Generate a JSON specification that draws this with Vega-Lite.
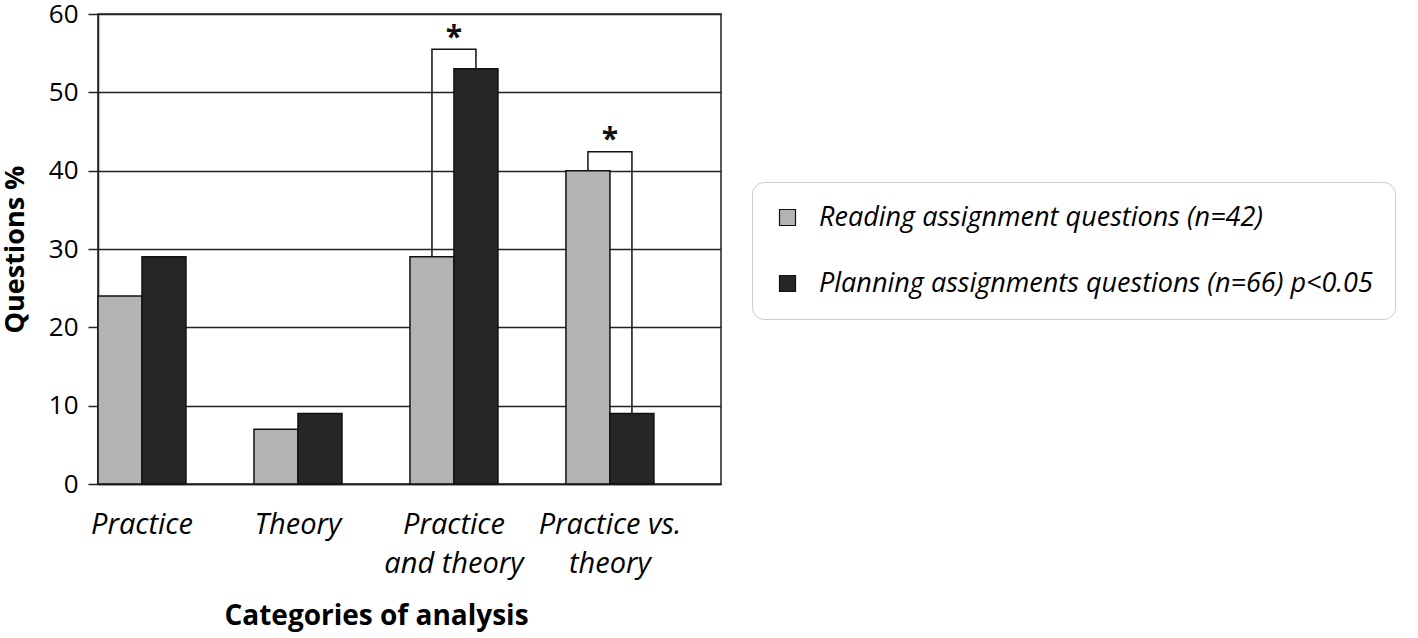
{
  "$schema": "https://vega.github.io/schema/vega-lite/v6.json",
  "width": 623,
  "height": 470,
  "autosize": {"type": "none"},
  "padding": {"left": 98, "top": 14, "right": 697, "bottom": 154},
  "background": "white",
  "config": {
    "view": {"stroke": "#222222", "strokeWidth": 1.5},
    "font": "Open Sans"
  },
  "datasets": {
    "bars": [
      {"category": "Practice", "series": "Reading", "value": 24},
      {"category": "Practice", "series": "Planning", "value": 29},
      {"category": "Theory", "series": "Reading", "value": 7},
      {"category": "Theory", "series": "Planning", "value": 9},
      {"category": "Practice and theory", "series": "Reading", "value": 29},
      {"category": "Practice and theory", "series": "Planning", "value": 53},
      {"category": "Practice vs. theory", "series": "Reading", "value": 40},
      {"category": "Practice vs. theory", "series": "Planning", "value": 9}
    ],
    "brackets": [
      {"bracket": "b1", "seq": 1, "category": "Practice and theory", "series": "Reading", "value": 29},
      {"bracket": "b1", "seq": 2, "category": "Practice and theory", "series": "Reading", "value": 55.5},
      {"bracket": "b1", "seq": 3, "category": "Practice and theory", "series": "Planning", "value": 55.5},
      {"bracket": "b1", "seq": 4, "category": "Practice and theory", "series": "Planning", "value": 53},
      {"bracket": "b2", "seq": 1, "category": "Practice vs. theory", "series": "Reading", "value": 40},
      {"bracket": "b2", "seq": 2, "category": "Practice vs. theory", "series": "Reading", "value": 42.4},
      {"bracket": "b2", "seq": 3, "category": "Practice vs. theory", "series": "Planning", "value": 42.4},
      {"bracket": "b2", "seq": 4, "category": "Practice vs. theory", "series": "Planning", "value": 9}
    ],
    "stars": [
      {"category": "Practice and theory", "value": 56.9, "label": "*"},
      {"category": "Practice vs. theory", "value": 43.9, "label": "*"}
    ]
  },
  "encoding": {
    "x": {
      "field": "category",
      "type": "nominal",
      "sort": ["Practice", "Theory", "Practice and theory", "Practice vs. theory"],
      "scale": {"paddingInner": 0.436, "paddingOuter": 0.215, "align": 0},
      "axis": {
        "title": "Categories of analysis",
        "titleFont": "Open Sans",
        "titleFontSize": 28,
        "titleFontWeight": "bold",
        "titleColor": "black",
        "titleX": 278,
        "titleAnchor": "middle",
        "titlePadding": 24,
        "labelFont": "Open Sans",
        "labelFontStyle": "italic",
        "labelFontSize": 29,
        "labelColor": "black",
        "labelAngle": 0,
        "labelPadding": 26,
        "labelLineHeight": 39,
        "labelExpr": "datum.value == 'Practice and theory' ? ['Practice', 'and theory'] : datum.value == 'Practice vs. theory' ? ['Practice vs.', 'theory'] : datum.value",
        "ticks": false,
        "domainColor": "#222222",
        "domainWidth": 1.5
      }
    },
    "y": {
      "field": "value",
      "type": "quantitative",
      "scale": {"domain": [0, 60], "nice": false},
      "axis": {
        "title": "Questions %",
        "titleFont": "Open Sans",
        "titleFontSize": 27,
        "titleFontWeight": "bold",
        "titleColor": "black",
        "titlePadding": 19,
        "values": [0, 10, 20, 30, 40, 50, 60],
        "labelFont": "Open Sans",
        "labelFontSize": 26,
        "labelColor": "black",
        "labelPadding": 10,
        "tickSize": 10,
        "tickColor": "#222222",
        "tickWidth": 1.5,
        "domainColor": "#222222",
        "domainWidth": 1.5,
        "grid": true,
        "gridColor": "#222222",
        "gridWidth": 1.5,
        "gridOpacity": 1
      }
    }
  },
  "layer": [
    {
      "data": {"name": "bars"},
      "mark": {"type": "bar", "stroke": "#111111", "strokeWidth": 1.5},
      "encoding": {
        "xOffset": {"field": "series", "type": "nominal", "sort": ["Reading", "Planning"]},
        "color": {
          "field": "series",
          "type": "nominal",
          "sort": ["Reading", "Planning"],
          "scale": {"domain": ["Reading", "Planning"], "range": ["#b3b3b3", "#262626"]},
          "legend": {
            "title": null,
            "orient": "none",
            "legendX": 654,
            "legendY": 168,
            "fillColor": "white",
            "strokeColor": "#cccccc",
            "cornerRadius": 12,
            "padding": 22,
            "labelFont": "Open Sans",
            "labelFontStyle": "italic",
            "labelFontSize": 27,
            "labelColor": "black",
            "labelLimit": 800,
            "labelOffset": 18,
            "symbolType": "square",
            "symbolSize": 256,
            "symbolStrokeColor": "#111111",
            "symbolStrokeWidth": 1.2,
            "rowPadding": 38,
            "labelExpr": "datum.value == 'Reading' ? 'Reading assignment questions (n=42)' : 'Planning assignments questions (n=66) p<0.05'"
          }
        }
      }
    },
    {
      "data": {"name": "brackets"},
      "mark": {"type": "line", "color": "#111111", "strokeWidth": 1.5},
      "encoding": {
        "xOffset": {"field": "series", "type": "nominal", "sort": ["Reading", "Planning"]},
        "detail": {"field": "bracket"},
        "order": {"field": "seq", "type": "quantitative"}
      }
    },
    {
      "data": {"name": "stars"},
      "mark": {"type": "text", "fontSize": 30, "fontWeight": "bold", "color": "#111111", "baseline": "middle", "align": "center"},
      "encoding": {
        "text": {"field": "label"}
      }
    }
  ]
}
